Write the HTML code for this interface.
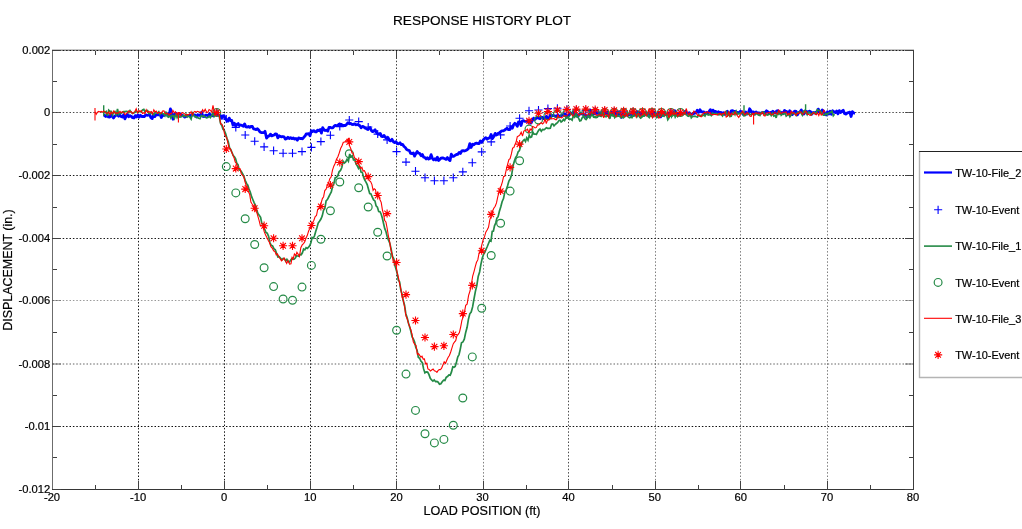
<!DOCTYPE html>
<html><head><meta charset="utf-8"><title>RESPONSE HISTORY PLOT</title>
<style>
html,body{margin:0;padding:0;background:#fff;overflow:hidden}
body{width:1022px;height:529px;font-family:"Liberation Sans",Arial,sans-serif}
svg{display:block}
</style></head><body>
<svg width="1022" height="529" viewBox="0 0 1022 529">
<rect width="100%" height="100%" fill="#fff"/>
<g fill="none" stroke-width="1" shape-rendering="crispEdges">
<line x1="52" y1="49.5" x2="914" y2="49.5" stroke="#c8c8c8"/>
<line x1="52" y1="50.5" x2="914" y2="50.5" stroke="#9a9a9a"/>
<line x1="52.5" y1="50" x2="52.5" y2="490" stroke="#6c6c6c"/>
<line x1="913.5" y1="50" x2="913.5" y2="490" stroke="#3c3c3c"/>
<line x1="52" y1="489.5" x2="914" y2="489.5" stroke="#363636"/>
</g>
<g fill="none" stroke="#000" stroke-width="1" stroke-dasharray="1.5 1.9">
<line x1="138.5" y1="50.5" x2="138.5" y2="489.5" stroke-opacity="0.90"/>
<line x1="224.5" y1="50.5" x2="224.5" y2="489.5" stroke-opacity="0.90"/>
<line x1="310.5" y1="50.5" x2="310.5" y2="489.5" stroke-opacity="0.90"/>
<line x1="396.5" y1="50.5" x2="396.5" y2="489.5" stroke-opacity="0.75"/>
<line x1="483.5" y1="50.5" x2="483.5" y2="489.5" stroke-opacity="0.50"/>
<line x1="568.5" y1="50.5" x2="568.5" y2="489.5" stroke-opacity="0.70"/>
<line x1="655.5" y1="50.5" x2="655.5" y2="489.5" stroke-opacity="0.50"/>
<line x1="740.5" y1="50.5" x2="740.5" y2="489.5" stroke-opacity="0.50"/>
<line x1="827.5" y1="50.5" x2="827.5" y2="489.5" stroke-opacity="0.50"/>
<line x1="52.5" y1="112.5" x2="913.5" y2="112.5" stroke-opacity="0.70"/>
<line x1="52.5" y1="175.5" x2="913.5" y2="175.5" stroke-opacity="0.90"/>
<line x1="52.5" y1="238.5" x2="913.5" y2="238.5" stroke-opacity="0.90"/>
<line x1="52.5" y1="300.5" x2="913.5" y2="300.5" stroke-opacity="0.40"/>
<line x1="52.5" y1="364.0" x2="913.5" y2="364.0" stroke-opacity="0.62"/>
<line x1="52.5" y1="426.5" x2="913.5" y2="426.5" stroke-opacity="0.95"/>
<line x1="52.5" y1="50.5" x2="913.5" y2="50.5" stroke-opacity="0.85"/>
</g>
<g fill="none" stroke="#404040" stroke-width="1" shape-rendering="crispEdges">
<line x1="95.5" y1="489.5" x2="95.5" y2="485.2"/>
<line x1="95.5" y1="50.5" x2="95.5" y2="54.8"/>
<line x1="138.5" y1="489.5" x2="138.5" y2="481.0"/>
<line x1="138.5" y1="50.5" x2="138.5" y2="59.0"/>
<line x1="181.5" y1="489.5" x2="181.5" y2="485.2"/>
<line x1="181.5" y1="50.5" x2="181.5" y2="54.8"/>
<line x1="224.5" y1="489.5" x2="224.5" y2="481.0"/>
<line x1="224.5" y1="50.5" x2="224.5" y2="59.0"/>
<line x1="267.5" y1="489.5" x2="267.5" y2="485.2"/>
<line x1="267.5" y1="50.5" x2="267.5" y2="54.8"/>
<line x1="310.5" y1="489.5" x2="310.5" y2="481.0"/>
<line x1="310.5" y1="50.5" x2="310.5" y2="59.0"/>
<line x1="353.5" y1="489.5" x2="353.5" y2="485.2"/>
<line x1="353.5" y1="50.5" x2="353.5" y2="54.8"/>
<line x1="396.5" y1="489.5" x2="396.5" y2="481.0"/>
<line x1="396.5" y1="50.5" x2="396.5" y2="59.0"/>
<line x1="439.5" y1="489.5" x2="439.5" y2="485.2"/>
<line x1="439.5" y1="50.5" x2="439.5" y2="54.8"/>
<line x1="483.5" y1="489.5" x2="483.5" y2="481.0"/>
<line x1="483.5" y1="50.5" x2="483.5" y2="59.0"/>
<line x1="526.5" y1="489.5" x2="526.5" y2="485.2"/>
<line x1="526.5" y1="50.5" x2="526.5" y2="54.8"/>
<line x1="568.5" y1="489.5" x2="568.5" y2="481.0"/>
<line x1="568.5" y1="50.5" x2="568.5" y2="59.0"/>
<line x1="612.5" y1="489.5" x2="612.5" y2="485.2"/>
<line x1="612.5" y1="50.5" x2="612.5" y2="54.8"/>
<line x1="655.5" y1="489.5" x2="655.5" y2="481.0"/>
<line x1="655.5" y1="50.5" x2="655.5" y2="59.0"/>
<line x1="698.5" y1="489.5" x2="698.5" y2="485.2"/>
<line x1="698.5" y1="50.5" x2="698.5" y2="54.8"/>
<line x1="740.5" y1="489.5" x2="740.5" y2="481.0"/>
<line x1="740.5" y1="50.5" x2="740.5" y2="59.0"/>
<line x1="784.5" y1="489.5" x2="784.5" y2="485.2"/>
<line x1="784.5" y1="50.5" x2="784.5" y2="54.8"/>
<line x1="827.5" y1="489.5" x2="827.5" y2="481.0"/>
<line x1="827.5" y1="50.5" x2="827.5" y2="59.0"/>
<line x1="870.5" y1="489.5" x2="870.5" y2="485.2"/>
<line x1="870.5" y1="50.5" x2="870.5" y2="54.8"/>
<line x1="52.5" y1="50.50" x2="61.0" y2="50.50" stroke-opacity="1.00"/>
<line x1="913.5" y1="50.50" x2="905.0" y2="50.50" stroke-opacity="1.00"/>
<line x1="52.5" y1="81.50" x2="56.8" y2="81.50" stroke-opacity="1.00"/>
<line x1="913.5" y1="81.50" x2="909.2" y2="81.50" stroke-opacity="1.00"/>
<line x1="52.5" y1="112.50" x2="61.0" y2="112.50" stroke-opacity="0.80"/>
<line x1="913.5" y1="112.50" x2="905.0" y2="112.50" stroke-opacity="0.80"/>
<line x1="52.5" y1="144.50" x2="56.8" y2="144.50" stroke-opacity="1.00"/>
<line x1="913.5" y1="144.50" x2="909.2" y2="144.50" stroke-opacity="1.00"/>
<line x1="52.5" y1="175.50" x2="61.0" y2="175.50" stroke-opacity="1.00"/>
<line x1="913.5" y1="175.50" x2="905.0" y2="175.50" stroke-opacity="1.00"/>
<line x1="52.5" y1="207.50" x2="56.8" y2="207.50" stroke-opacity="1.00"/>
<line x1="913.5" y1="207.50" x2="909.2" y2="207.50" stroke-opacity="1.00"/>
<line x1="52.5" y1="238.50" x2="61.0" y2="238.50" stroke-opacity="1.00"/>
<line x1="913.5" y1="238.50" x2="905.0" y2="238.50" stroke-opacity="1.00"/>
<line x1="52.5" y1="269.50" x2="56.8" y2="269.50" stroke-opacity="1.00"/>
<line x1="913.5" y1="269.50" x2="909.2" y2="269.50" stroke-opacity="1.00"/>
<line x1="52.5" y1="300.50" x2="61.0" y2="300.50" stroke-opacity="0.45"/>
<line x1="913.5" y1="300.50" x2="905.0" y2="300.50" stroke-opacity="0.45"/>
<line x1="52.5" y1="332.50" x2="56.8" y2="332.50" stroke-opacity="1.00"/>
<line x1="913.5" y1="332.50" x2="909.2" y2="332.50" stroke-opacity="1.00"/>
<line x1="52.5" y1="364.00" x2="61.0" y2="364.00" stroke-opacity="0.70" shape-rendering="auto"/>
<line x1="913.5" y1="364.00" x2="905.0" y2="364.00" stroke-opacity="0.70" shape-rendering="auto"/>
<line x1="52.5" y1="395.50" x2="56.8" y2="395.50" stroke-opacity="1.00"/>
<line x1="913.5" y1="395.50" x2="909.2" y2="395.50" stroke-opacity="1.00"/>
<line x1="52.5" y1="426.50" x2="61.0" y2="426.50" stroke-opacity="1.00"/>
<line x1="913.5" y1="426.50" x2="905.0" y2="426.50" stroke-opacity="1.00"/>
<line x1="52.5" y1="457.50" x2="56.8" y2="457.50" stroke-opacity="1.00"/>
<line x1="913.5" y1="457.50" x2="909.2" y2="457.50" stroke-opacity="1.00"/>
<line x1="52.5" y1="489.50" x2="61.0" y2="489.50" stroke-opacity="1.00"/>
<line x1="913.5" y1="489.50" x2="905.0" y2="489.50" stroke-opacity="1.00"/>
</g>
<g font-family="'Liberation Sans', Arial, sans-serif" font-size="11.2" fill="#000" stroke="#000" stroke-width="0.2">
<text x="52.0" y="501" text-anchor="middle">-20</text>
<text x="138.1" y="501" text-anchor="middle">-10</text>
<text x="224.2" y="501" text-anchor="middle">0</text>
<text x="310.3" y="501" text-anchor="middle">10</text>
<text x="396.4" y="501" text-anchor="middle">20</text>
<text x="482.5" y="501" text-anchor="middle">30</text>
<text x="568.6" y="501" text-anchor="middle">40</text>
<text x="654.7" y="501" text-anchor="middle">50</text>
<text x="740.8" y="501" text-anchor="middle">60</text>
<text x="826.9" y="501" text-anchor="middle">70</text>
<text x="913.0" y="501" text-anchor="middle">80</text>
<text x="50.3" y="54.1" text-anchor="end">0.002</text>
<text x="50.3" y="116.1" text-anchor="end">0</text>
<text x="50.3" y="179.1" text-anchor="end">-0.002</text>
<text x="50.3" y="242.1" text-anchor="end">-0.004</text>
<text x="50.3" y="304.1" text-anchor="end">-0.006</text>
<text x="50.3" y="367.6" text-anchor="end">-0.008</text>
<text x="50.3" y="430.1" text-anchor="end">-0.01</text>
<text x="50.3" y="493.1" text-anchor="end">-0.012</text>
</g>
<g font-family="'Liberation Sans', Arial, sans-serif" fill="#000" stroke="#000" stroke-width="0.2">
<text x="482.1" y="25.4" font-size="13.58" text-anchor="middle">RESPONSE HISTORY PLOT</text>
<text x="482" y="515.2" font-size="12.6" text-anchor="middle">LOAD POSITION (ft)</text>
<text transform="translate(11.8,270) rotate(-90)" font-size="12.45" text-anchor="middle">DISPLACEMENT (in.)</text>
</g>
<g fill="none" stroke-linejoin="miter" stroke-miterlimit="3">
<path d="M103.3,115.7 L104.6,115.4 L105.8,116.6 L107.1,114.9 L108.4,116.9 L109.7,117.2 L110.9,114.7 L112.2,116.3 L113.5,118.0 L114.7,116.2 L116.0,115.4 L117.3,114.4 L118.6,116.2 L119.8,115.1 L121.1,116.5 L122.4,117.1 L123.6,114.8 L124.9,118.8 L126.2,116.2 L127.5,114.6 L128.7,116.8 L130.0,115.6 L131.3,116.4 L132.6,117.6 L133.9,118.0 L135.2,115.6 L136.5,116.9 L137.8,115.0 L139.1,117.1 L140.4,115.3 L141.7,116.6 L143.0,116.5 L144.3,116.6 L145.7,114.8 L147.0,115.3 L148.3,115.1 L149.6,114.7 L150.9,117.7 L152.2,118.6 L153.5,114.8 L154.8,116.6 L156.1,114.8 L157.4,114.8 L158.7,114.8 L160.0,114.0 L161.3,117.5 L162.6,115.2 L163.9,115.5 L165.2,114.9 L166.5,113.5 L167.8,114.0 L169.1,115.6 L170.4,108.9 L171.7,114.2 L173.0,119.2 L174.3,114.3 L175.7,113.1 L177.0,114.7 L178.3,114.3 L179.6,113.5 L180.9,114.9 L182.2,115.4 L183.5,116.0 L184.8,117.1 L186.1,116.4 L187.4,115.4 L188.7,115.7 L190.0,115.5 L191.3,115.7 L192.6,114.8 L193.9,114.8 L195.2,115.2 L196.5,117.0 L197.8,114.8 L199.1,115.3 L200.4,115.4 L201.6,112.3 L202.9,116.4 L204.2,116.5 L205.5,115.1 L206.8,115.1 L208.1,116.1 L209.4,113.9 L210.7,115.1 L212.0,115.2 L213.4,115.9 L214.8,114.2 L216.2,113.3 L217.6,114.4 L219.0,115.5 L220.3,115.3 L221.5,118.2 L222.8,115.9 L224.1,115.7 L225.3,118.5 L226.6,120.3 L227.9,121.2 L229.2,118.1 L230.5,120.7 L231.7,120.4 L233.0,125.1 L234.3,123.1 L235.6,126.0 L236.9,124.5 L238.2,123.6 L239.4,125.6 L240.7,125.0 L242.0,125.6 L243.3,126.2 L244.6,123.9 L245.9,126.9 L247.2,127.1 L248.4,126.4 L249.7,127.4 L251.0,126.3 L252.3,126.5 L253.6,128.9 L254.9,129.2 L256.1,129.6 L257.4,128.8 L258.7,130.1 L260.0,132.0 L261.2,132.6 L262.5,132.7 L263.8,132.7 L265.0,131.3 L266.6,138.1 L268.0,136.3 L269.2,135.9 L270.5,134.2 L271.7,135.8 L272.9,135.4 L274.1,135.0 L275.4,133.9 L276.6,134.2 L277.8,137.9 L279.1,135.8 L280.3,136.4 L281.6,136.8 L282.8,136.5 L284.0,136.8 L285.3,139.1 L286.5,138.7 L287.9,137.3 L289.2,138.5 L290.6,137.7 L291.9,138.7 L293.2,138.0 L294.6,139.0 L295.9,138.5 L297.3,140.2 L298.6,137.9 L300.0,138.5 L301.2,138.4 L302.5,138.8 L303.8,137.3 L305.0,136.1 L306.2,133.9 L307.5,134.0 L308.8,133.6 L310.0,135.8 L311.3,130.8 L312.5,131.5 L313.8,130.6 L315.1,131.8 L316.3,131.9 L317.6,130.1 L318.9,130.7 L320.2,129.5 L321.4,133.1 L322.7,127.6 L324.0,129.8 L325.2,130.5 L326.5,130.1 L327.8,131.1 L329.0,127.4 L330.2,127.3 L331.5,127.9 L332.8,127.8 L334.0,126.4 L335.2,125.4 L336.5,125.6 L337.8,125.4 L339.1,124.1 L340.3,124.5 L341.6,124.5 L342.9,125.5 L344.2,125.4 L345.4,125.6 L346.7,124.2 L348.0,122.7 L349.3,123.8 L350.6,123.3 L351.9,124.3 L353.2,124.5 L354.6,123.9 L355.9,124.8 L357.2,124.5 L358.5,125.1 L359.8,125.6 L361.1,127.8 L362.4,126.5 L363.6,126.7 L364.9,127.9 L366.2,128.6 L367.4,129.3 L368.7,128.5 L370.0,127.5 L371.3,130.4 L372.6,131.6 L373.8,131.1 L375.1,129.8 L376.4,132.3 L377.7,133.7 L378.9,134.4 L380.2,133.4 L381.5,136.4 L382.8,136.6 L384.1,135.4 L385.3,137.4 L386.6,138.2 L387.9,137.4 L389.3,140.2 L390.6,140.9 L392.0,139.3 L393.3,141.7 L394.6,142.5 L396.0,141.7 L397.3,143.6 L398.7,143.8 L400.0,142.7 L401.3,144.6 L402.7,144.5 L404.0,146.5 L405.3,147.5 L406.6,149.5 L408.0,150.1 L409.3,150.5 L410.6,153.4 L412.0,153.5 L413.3,152.9 L414.6,156.1 L415.9,153.7 L417.2,151.5 L418.5,153.2 L419.7,153.3 L421.0,155.7 L422.3,154.4 L423.6,157.2 L424.9,157.5 L426.1,158.9 L427.4,157.7 L428.6,159.1 L429.9,158.4 L431.1,154.7 L432.4,158.3 L433.6,159.8 L434.9,158.7 L436.1,160.0 L437.4,157.2 L438.6,160.5 L439.9,159.2 L441.1,158.1 L442.4,157.8 L443.6,158.2 L444.9,158.8 L446.1,159.4 L447.4,157.6 L448.7,159.4 L450.0,160.6 L451.3,154.2 L452.6,156.3 L453.9,156.3 L455.2,155.2 L456.5,154.5 L457.8,154.3 L459.2,152.4 L460.5,153.4 L461.8,150.8 L463.1,150.6 L464.5,151.0 L465.8,150.5 L467.1,149.8 L468.5,148.4 L469.8,143.7 L471.1,147.5 L472.5,144.2 L473.8,144.9 L475.1,143.5 L476.5,143.1 L477.8,143.5 L479.1,143.7 L480.4,140.9 L481.8,142.4 L483.1,140.2 L484.4,138.6 L485.8,137.6 L487.1,139.2 L488.5,138.1 L489.8,137.8 L491.1,134.5 L492.5,138.6 L493.8,136.6 L495.2,133.4 L496.5,135.0 L497.8,133.6 L499.2,132.9 L500.5,131.8 L501.8,130.9 L503.1,130.9 L504.5,130.3 L505.8,129.1 L507.1,128.3 L508.5,129.7 L509.8,129.6 L511.1,126.7 L512.3,128.2 L513.5,124.8 L514.8,123.3 L516.0,124.2 L517.3,126.3 L518.5,121.8 L519.8,121.9 L521.0,125.5 L522.3,121.1 L523.5,120.6 L524.8,121.4 L526.0,121.4 L527.2,120.7 L528.5,122.4 L529.7,120.3 L531.0,123.1 L532.3,120.5 L533.6,118.1 L534.9,119.5 L536.1,118.3 L537.4,117.7 L538.7,118.3 L540.0,118.8 L541.3,117.4 L542.6,117.4 L543.9,118.6 L545.2,117.9 L546.4,116.3 L547.7,118.5 L549.0,118.7 L550.3,115.1 L551.6,116.2 L552.9,115.3 L554.1,115.7 L555.4,116.1 L556.6,116.9 L557.9,114.7 L559.1,116.9 L560.4,116.4 L561.6,115.2 L562.9,115.0 L564.1,113.9 L565.4,114.0 L566.6,117.0 L567.9,116.5 L569.2,114.6 L570.6,113.7 L571.9,113.5 L573.2,112.0 L574.5,115.1 L575.8,113.8 L577.2,116.4 L578.5,115.6 L579.8,113.8 L581.1,113.7 L582.4,114.0 L583.8,114.7 L585.1,114.9 L586.4,116.6 L587.7,116.3 L589.0,115.8 L590.4,110.0 L591.7,114.8 L593.0,113.9 L594.3,113.6 L595.6,112.3 L596.9,113.6 L598.2,113.0 L599.5,112.8 L600.8,115.0 L602.1,111.8 L603.4,113.9 L604.8,113.8 L606.1,112.3 L607.4,115.3 L608.7,113.8 L610.0,116.0 L611.3,113.3 L612.6,113.3 L613.9,114.5 L615.2,112.9 L616.5,113.6 L617.8,114.8 L619.1,111.8 L620.4,114.6 L621.7,117.3 L623.0,114.0 L624.3,115.1 L625.6,114.4 L626.9,115.2 L628.2,114.6 L629.6,114.4 L630.9,115.3 L632.2,115.7 L633.5,115.0 L634.8,113.9 L636.1,113.7 L637.4,111.6 L638.7,113.2 L640.0,113.2 L641.3,115.2 L642.6,113.8 L643.9,115.3 L645.2,114.6 L646.5,112.9 L647.7,114.7 L649.0,114.1 L650.3,115.0 L651.6,112.8 L652.9,116.3 L654.2,112.0 L655.5,114.2 L656.8,115.6 L658.1,112.8 L659.4,114.5 L660.6,116.9 L661.9,115.0 L663.2,115.4 L664.5,112.1 L665.8,114.7 L667.1,114.2 L668.4,114.6 L669.7,114.3 L671.0,112.2 L672.3,113.3 L673.5,113.2 L674.8,110.7 L676.1,115.0 L677.4,113.7 L678.7,113.7 L680.0,113.7 L681.3,113.0 L682.7,113.4 L684.0,113.1 L685.3,111.2 L686.7,113.0 L688.0,113.5 L689.3,112.7 L690.7,114.3 L692.0,114.3 L693.3,114.0 L694.7,112.3 L696.0,113.0 L697.3,110.2 L698.7,112.4 L700.0,109.8 L701.3,111.9 L702.6,111.9 L703.9,112.0 L705.2,113.9 L706.5,112.4 L707.8,113.8 L709.1,111.6 L710.4,109.6 L711.7,114.2 L713.0,110.2 L714.3,111.9 L715.7,111.3 L717.0,112.8 L718.3,111.8 L719.6,112.6 L720.9,112.4 L722.2,113.5 L723.5,112.6 L724.8,114.3 L726.1,112.7 L727.4,111.2 L728.7,114.3 L730.0,113.9 L731.3,110.9 L732.6,110.6 L733.9,111.6 L735.2,111.4 L736.5,112.6 L737.8,112.4 L739.1,113.0 L740.4,111.2 L741.7,112.0 L743.0,114.3 L744.3,114.1 L745.7,111.9 L747.0,114.1 L748.3,113.3 L749.6,108.8 L750.9,110.7 L752.2,112.8 L753.5,111.9 L754.8,114.0 L756.1,112.0 L757.4,113.1 L758.7,112.8 L760.0,113.5 L761.3,112.9 L762.6,112.6 L763.9,112.5 L765.2,112.6 L766.5,110.8 L767.7,111.7 L769.0,113.0 L770.3,112.5 L771.6,112.6 L772.9,111.3 L774.2,112.5 L775.5,112.8 L776.8,110.8 L778.1,110.7 L779.4,112.8 L780.6,113.6 L781.9,112.4 L783.2,113.7 L784.5,110.5 L785.8,111.4 L787.1,111.9 L788.4,114.0 L789.7,110.8 L791.0,112.9 L792.3,114.6 L793.5,112.2 L794.8,111.1 L796.1,111.4 L797.4,114.9 L798.7,112.6 L800.0,112.0 L801.3,109.9 L802.6,113.6 L803.9,114.1 L805.2,112.0 L806.5,111.4 L807.9,112.5 L809.2,111.2 L810.5,111.5 L811.8,114.2 L813.1,112.5 L814.4,112.9 L815.7,112.2 L817.0,112.7 L818.3,109.1 L819.6,112.3 L821.0,112.6 L822.3,110.0 L823.6,111.0 L824.9,113.8 L826.2,114.9 L827.5,111.8 L828.8,114.0 L830.1,111.3 L831.4,114.3 L832.7,110.8 L834.0,111.7 L835.4,112.6 L836.7,111.0 L838.0,113.8 L839.3,110.6 L840.6,112.5 L841.9,111.4 L843.2,110.2 L844.5,113.4 L845.8,114.1 L847.1,113.1 L848.5,112.5 L849.8,112.1 L851.1,116.5 L852.4,111.6 L853.7,113.0 L855.0,113.3" stroke="#0000ff" stroke-width="2.8" stroke-linejoin="round"/>
<path d="M212.8,112.5h8.1M216.8,108.5v8.1" stroke="#0000ff" stroke-width="1.1" fill="none"/>
<path d="M222.2,119.0h8.1M226.3,115.0v8.1" stroke="#0000ff" stroke-width="1.1" fill="none"/>
<path d="M231.7,127.4h8.1M235.8,123.4v8.1" stroke="#0000ff" stroke-width="1.1" fill="none"/>
<path d="M241.2,135.0h8.1M245.2,130.9v8.1" stroke="#0000ff" stroke-width="1.1" fill="none"/>
<path d="M250.6,141.3h8.1M254.7,137.2v8.1" stroke="#0000ff" stroke-width="1.1" fill="none"/>
<path d="M260.1,146.9h8.1M264.1,142.8v8.1" stroke="#0000ff" stroke-width="1.1" fill="none"/>
<path d="M269.6,150.7h8.1M273.6,146.6v8.1" stroke="#0000ff" stroke-width="1.1" fill="none"/>
<path d="M279.0,153.2h8.1M283.1,149.1v8.1" stroke="#0000ff" stroke-width="1.1" fill="none"/>
<path d="M288.5,153.2h8.1M292.5,149.1v8.1" stroke="#0000ff" stroke-width="1.1" fill="none"/>
<path d="M297.9,151.6h8.1M302.0,147.5v8.1" stroke="#0000ff" stroke-width="1.1" fill="none"/>
<path d="M307.4,147.4h8.1M311.4,143.3v8.1" stroke="#0000ff" stroke-width="1.1" fill="none"/>
<path d="M316.8,141.6h8.1M320.9,137.5v8.1" stroke="#0000ff" stroke-width="1.1" fill="none"/>
<path d="M326.3,135.3h8.1M330.4,131.2v8.1" stroke="#0000ff" stroke-width="1.1" fill="none"/>
<path d="M335.8,126.6h8.1M339.8,122.5v8.1" stroke="#0000ff" stroke-width="1.1" fill="none"/>
<path d="M345.2,120.0h8.1M349.3,116.0v8.1" stroke="#0000ff" stroke-width="1.1" fill="none"/>
<path d="M354.7,121.6h8.1M358.7,117.5v8.1" stroke="#0000ff" stroke-width="1.1" fill="none"/>
<path d="M364.2,127.0h8.1M368.2,123.0v8.1" stroke="#0000ff" stroke-width="1.1" fill="none"/>
<path d="M373.6,134.1h8.1M377.7,130.0v8.1" stroke="#0000ff" stroke-width="1.1" fill="none"/>
<path d="M383.1,139.9h8.1M387.1,135.8v8.1" stroke="#0000ff" stroke-width="1.1" fill="none"/>
<path d="M392.5,151.6h8.1M396.6,147.5v8.1" stroke="#0000ff" stroke-width="1.1" fill="none"/>
<path d="M402.0,162.1h8.1M406.0,158.0v8.1" stroke="#0000ff" stroke-width="1.1" fill="none"/>
<path d="M411.4,171.2h8.1M415.5,167.1v8.1" stroke="#0000ff" stroke-width="1.1" fill="none"/>
<path d="M420.9,177.7h8.1M425.0,173.6v8.1" stroke="#0000ff" stroke-width="1.1" fill="none"/>
<path d="M430.4,180.7h8.1M434.4,176.6v8.1" stroke="#0000ff" stroke-width="1.1" fill="none"/>
<path d="M439.8,180.7h8.1M443.9,176.6v8.1" stroke="#0000ff" stroke-width="1.1" fill="none"/>
<path d="M449.3,177.7h8.1M453.3,173.6v8.1" stroke="#0000ff" stroke-width="1.1" fill="none"/>
<path d="M458.8,171.9h8.1M462.8,167.8v8.1" stroke="#0000ff" stroke-width="1.1" fill="none"/>
<path d="M468.2,162.7h8.1M472.3,158.6v8.1" stroke="#0000ff" stroke-width="1.1" fill="none"/>
<path d="M477.7,151.9h8.1M481.7,147.8v8.1" stroke="#0000ff" stroke-width="1.1" fill="none"/>
<path d="M487.1,141.9h8.1M491.2,137.8v8.1" stroke="#0000ff" stroke-width="1.1" fill="none"/>
<path d="M496.6,134.9h8.1M500.6,130.8v8.1" stroke="#0000ff" stroke-width="1.1" fill="none"/>
<path d="M506.1,126.0h8.1M510.1,122.0v8.1" stroke="#0000ff" stroke-width="1.1" fill="none"/>
<path d="M515.5,118.3h8.1M519.6,114.2v8.1" stroke="#0000ff" stroke-width="1.1" fill="none"/>
<path d="M525.0,110.8h8.1M529.0,106.8v8.1" stroke="#0000ff" stroke-width="1.1" fill="none"/>
<path d="M534.4,110.0h8.1M538.5,106.0v8.1" stroke="#0000ff" stroke-width="1.1" fill="none"/>
<path d="M543.9,108.6h8.1M547.9,104.5v8.1" stroke="#0000ff" stroke-width="1.1" fill="none"/>
<path d="M553.4,108.3h8.1M557.4,104.2v8.1" stroke="#0000ff" stroke-width="1.1" fill="none"/>
<path d="M562.8,109.3h8.1M566.9,105.2v8.1" stroke="#0000ff" stroke-width="1.1" fill="none"/>
<path d="M572.3,110.0h8.1M576.3,106.0v8.1" stroke="#0000ff" stroke-width="1.1" fill="none"/>
<path d="M581.7,110.6h8.1M585.8,106.6v8.1" stroke="#0000ff" stroke-width="1.1" fill="none"/>
<path d="M591.2,111.0h8.1M595.2,107.0v8.1" stroke="#0000ff" stroke-width="1.1" fill="none"/>
<path d="M600.7,111.4h8.1M604.7,107.3v8.1" stroke="#0000ff" stroke-width="1.1" fill="none"/>
<path d="M610.1,111.6h8.1M614.2,107.5v8.1" stroke="#0000ff" stroke-width="1.1" fill="none"/>
<path d="M619.6,111.8h8.1M623.6,107.7v8.1" stroke="#0000ff" stroke-width="1.1" fill="none"/>
<path d="M629.0,111.9h8.1M633.1,107.8v8.1" stroke="#0000ff" stroke-width="1.1" fill="none"/>
<path d="M638.5,112.0h8.1M642.5,107.9v8.1" stroke="#0000ff" stroke-width="1.1" fill="none"/>
<path d="M648.0,112.1h8.1M652.0,108.0v8.1" stroke="#0000ff" stroke-width="1.1" fill="none"/>
<path d="M657.4,112.1h8.1M661.5,108.1v8.1" stroke="#0000ff" stroke-width="1.1" fill="none"/>
<path d="M666.9,112.2h8.1M670.9,108.1v8.1" stroke="#0000ff" stroke-width="1.1" fill="none"/>
<path d="M676.3,112.2h8.1M680.4,108.2v8.1" stroke="#0000ff" stroke-width="1.1" fill="none"/>
<path d="M103.7,112.2 L105.0,112.7 L106.2,111.5 L107.5,115.9 L108.7,110.2 L110.0,111.4 L111.2,111.3 L112.5,115.0 L113.7,111.9 L115.0,111.5 L116.2,115.6 L117.5,109.0 L118.7,114.4 L120.0,112.7 L121.2,113.3 L122.5,112.1 L123.7,111.7 L125.0,111.5 L126.2,111.4 L127.5,111.5 L128.8,112.6 L130.0,110.6 L131.2,112.2 L132.5,113.4 L133.8,112.9 L135.0,112.4 L136.2,111.1 L137.5,112.4 L138.8,111.4 L140.0,111.7 L141.2,111.9 L142.5,109.9 L143.8,109.4 L145.0,111.7 L146.2,110.9 L147.5,110.5 L148.8,113.5 L150.0,113.4 L151.2,112.2 L152.5,114.0 L153.8,114.8 L155.0,112.8 L156.2,113.0 L157.5,113.2 L158.8,111.8 L160.0,114.5 L161.2,113.0 L162.4,113.5 L163.6,113.9 L164.8,115.7 L166.0,111.6 L167.2,116.5 L168.4,117.1 L169.6,115.5 L170.8,118.0 L172.0,115.5 L173.3,115.8 L174.5,118.3 L175.8,113.7 L177.1,117.5 L178.4,114.9 L179.6,117.1 L180.9,116.9 L182.2,116.3 L183.5,115.3 L184.7,116.4 L186.0,114.3 L187.3,116.9 L188.5,116.0 L189.8,117.0 L191.1,119.0 L192.4,113.2 L193.6,115.1 L194.9,116.8 L196.2,116.7 L197.5,117.6 L198.7,118.3 L200.0,118.7 L201.3,115.5 L202.6,116.4 L203.9,115.9 L205.2,117.1 L206.5,117.9 L207.8,117.5 L209.1,116.2 L210.4,117.7 L211.7,115.7 L213.0,112.8 L214.2,116.5 L215.5,114.8 L216.8,113.2 L218.0,110.5 L219.3,116.6 L220.5,123.1 L221.8,125.6 L223.0,129.3 L224.3,130.4 L225.6,133.5 L226.9,138.2 L228.2,141.6 L229.5,147.7 L230.8,149.6 L232.0,152.5 L233.2,155.5 L234.4,156.7 L235.6,158.8 L236.8,163.3 L238.0,164.7 L239.2,170.0 L240.4,170.2 L241.6,172.0 L242.8,174.1 L244.0,176.9 L245.3,180.5 L246.5,183.4 L247.8,185.2 L249.0,189.0 L250.3,192.2 L251.6,196.7 L252.8,199.5 L254.1,202.6 L255.3,205.0 L256.6,209.5 L257.9,213.6 L259.2,215.3 L260.6,217.4 L261.9,223.8 L263.2,223.9 L264.5,228.7 L265.9,232.4 L267.2,233.2 L268.6,236.3 L269.9,242.5 L271.2,245.4 L272.6,245.9 L273.9,248.7 L275.3,249.7 L276.6,253.5 L277.9,256.9 L279.2,256.6 L280.6,258.2 L281.9,259.8 L283.2,258.5 L284.4,258.7 L285.7,261.2 L286.9,259.4 L288.2,261.5 L289.4,261.9 L290.6,260.3 L291.8,258.6 L292.9,259.4 L294.1,259.3 L295.3,258.1 L296.5,255.8 L297.7,256.0 L298.9,256.3 L300.1,254.5 L301.2,254.8 L302.4,252.8 L303.6,249.1 L304.8,249.9 L306.1,247.6 L307.3,248.4 L308.6,247.2 L309.8,245.5 L310.9,242.8 L312.1,237.5 L313.2,238.1 L314.4,236.1 L315.7,231.4 L316.9,227.8 L318.2,223.1 L319.5,221.3 L320.8,219.3 L322.2,216.1 L323.5,210.3 L324.8,208.6 L326.1,200.9 L327.4,199.6 L328.7,197.0 L330.0,194.4 L331.3,191.9 L332.6,186.2 L333.9,183.5 L335.2,177.7 L336.5,177.2 L337.8,175.8 L339.1,171.8 L340.5,170.4 L341.8,167.5 L343.1,161.3 L344.4,163.1 L345.7,162.0 L347.1,159.2 L348.4,161.2 L349.7,154.0 L351.0,156.8 L352.3,156.1 L353.5,159.8 L354.8,159.3 L356.0,164.0 L357.3,165.8 L358.5,168.3 L359.8,165.8 L361.0,172.1 L362.3,172.4 L363.5,176.9 L364.8,180.2 L366.0,182.1 L367.2,184.6 L368.5,189.3 L369.7,193.6 L371.0,193.9 L372.3,197.2 L373.6,199.9 L374.9,200.9 L376.1,205.9 L377.4,207.2 L378.7,211.5 L380.0,211.7 L381.2,214.2 L382.4,218.3 L383.6,223.8 L384.7,228.4 L385.9,231.4 L387.1,236.2 L388.3,239.6 L389.7,242.9 L391.1,249.0 L392.5,256.5 L393.7,258.6 L394.8,265.1 L396.0,268.9 L397.1,272.8 L398.3,280.2 L399.6,281.8 L400.8,290.1 L402.1,294.2 L403.3,300.8 L404.6,305.4 L405.8,313.7 L407.1,317.6 L408.3,322.4 L409.6,326.7 L410.8,331.0 L412.1,336.9 L413.3,338.9 L414.6,341.9 L415.8,347.5 L417.1,350.2 L418.3,357.3 L419.6,358.2 L420.9,361.1 L422.3,362.7 L423.6,368.9 L424.9,372.9 L426.2,371.8 L427.6,372.1 L428.9,374.4 L430.3,378.4 L431.6,380.0 L432.9,381.1 L434.2,379.9 L435.6,381.7 L436.9,381.5 L438.2,382.2 L439.5,384.2 L440.9,383.7 L442.2,381.7 L443.6,380.1 L444.9,380.4 L446.2,377.4 L447.5,376.5 L448.9,374.9 L450.2,375.3 L451.5,371.9 L452.8,366.8 L454.0,367.2 L455.2,366.5 L456.5,362.0 L457.8,356.9 L459.0,354.8 L460.2,349.6 L461.5,342.8 L462.9,342.0 L464.3,339.1 L465.7,332.4 L467.1,327.3 L468.4,319.3 L469.8,313.8 L471.2,312.0 L472.6,306.9 L474.0,298.9 L475.4,291.4 L476.8,285.6 L478.2,276.4 L479.6,272.0 L480.9,264.3 L482.3,258.1 L483.6,254.3 L484.8,252.3 L486.1,249.1 L487.3,246.5 L488.6,243.2 L489.8,240.3 L491.0,241.1 L492.2,231.5 L493.4,231.1 L494.5,225.8 L495.7,223.0 L496.9,218.1 L498.1,216.7 L499.4,211.2 L500.8,206.7 L502.1,201.7 L503.5,198.6 L504.8,192.2 L506.2,190.0 L507.5,186.0 L508.9,181.0 L510.3,178.6 L511.7,174.6 L513.1,165.7 L514.4,161.0 L515.6,157.7 L516.9,155.7 L518.1,151.9 L519.4,150.6 L520.6,146.4 L521.9,143.0 L523.1,140.7 L524.3,139.5 L525.5,141.5 L526.7,137.8 L528.0,140.1 L529.2,135.2 L530.4,137.5 L531.6,137.0 L532.8,132.0 L534.0,134.1 L535.2,134.0 L536.4,134.4 L537.6,132.2 L538.8,130.1 L540.0,129.0 L541.3,131.2 L542.6,129.4 L543.9,129.8 L545.2,128.9 L546.4,127.7 L547.7,128.3 L549.0,128.4 L550.3,128.3 L551.6,124.3 L552.8,124.0 L554.0,125.8 L555.2,124.5 L556.3,123.5 L557.5,122.6 L558.7,120.8 L559.9,120.1 L561.1,122.0 L562.3,121.1 L563.5,119.4 L564.6,120.6 L565.8,118.1 L567.0,118.1 L568.2,117.1 L569.5,119.4 L570.8,119.0 L572.1,120.2 L573.3,115.8 L574.6,117.2 L575.9,113.6 L577.2,116.7 L578.5,118.0 L579.8,120.9 L581.0,120.6 L582.3,117.5 L583.6,116.4 L584.9,118.6 L586.1,119.6 L587.4,117.8 L588.6,116.2 L589.9,117.9 L591.1,115.7 L592.4,114.4 L593.6,117.2 L594.9,117.4 L596.1,117.6 L597.3,117.3 L598.6,115.7 L599.8,115.9 L601.1,116.4 L602.3,110.8 L603.6,113.6 L604.8,116.4 L606.1,116.8 L607.3,115.9 L608.6,115.9 L609.8,118.8 L611.0,114.3 L612.3,115.2 L613.5,113.9 L614.7,117.6 L616.0,116.2 L617.2,116.3 L618.4,116.0 L619.7,116.4 L620.9,117.7 L622.1,116.2 L623.4,117.7 L624.6,116.7 L625.8,112.2 L627.1,115.8 L628.3,116.9 L629.5,117.8 L630.8,117.2 L632.0,117.7 L633.2,115.1 L634.5,113.4 L635.7,114.0 L636.9,116.9 L638.2,114.5 L639.4,116.8 L640.6,118.2 L641.9,117.2 L643.1,113.3 L644.3,115.5 L645.6,113.8 L646.8,115.5 L648.0,116.3 L649.3,117.5 L650.5,115.2 L651.7,115.6 L653.0,116.4 L654.2,115.1 L655.4,114.4 L656.7,117.6 L657.9,117.1 L659.1,114.2 L660.4,114.1 L661.6,113.7 L662.8,114.7 L664.1,116.2 L665.3,114.6 L666.5,114.6 L667.8,119.7 L669.0,117.9 L670.2,113.6 L671.5,116.8 L672.7,113.8 L673.9,112.6 L675.2,117.1 L676.4,114.8 L677.6,116.6 L678.9,115.0 L680.1,115.4 L681.4,114.6 L682.6,114.5 L683.9,113.6 L685.1,113.8 L686.3,114.4 L687.6,116.0 L688.8,116.2 L690.1,114.1 L691.3,117.8 L692.5,116.4 L693.8,116.5 L695.0,116.1 L696.3,116.7 L697.5,117.1 L698.8,114.9 L700.0,115.9 L701.2,115.3 L702.5,115.8 L703.8,114.8 L705.0,116.1 L706.2,113.6 L707.5,114.5 L708.8,115.0 L710.0,114.4 L711.2,115.5 L712.5,113.0 L713.8,113.9 L715.0,114.1 L716.2,113.5 L717.5,114.0 L718.8,114.8 L720.0,114.4 L721.2,114.1 L722.5,116.0 L723.8,114.1 L725.0,113.2 L726.2,111.7 L727.5,116.3 L728.8,113.1 L730.0,116.5 L731.2,116.3 L732.5,113.4 L733.8,112.1 L735.0,114.6 L736.2,111.2 L737.5,114.0 L738.8,113.7 L740.0,113.0 L741.2,113.4 L742.5,113.0 L743.8,115.9 L745.0,115.7 L746.2,114.6 L747.5,114.0 L748.8,113.3 L750.0,114.8 L751.2,114.4 L752.5,114.0 L753.8,114.7 L755.0,114.6 L756.2,113.0 L757.5,114.3 L758.8,115.1 L760.0,115.5 L761.2,112.6 L762.5,112.1 L763.8,112.1 L765.0,114.5 L766.2,114.6 L767.5,115.1 L768.8,114.6 L770.0,113.5 L771.2,115.5 L772.5,113.1 L773.8,116.0 L775.0,115.2 L776.2,117.8 L777.5,112.6 L778.8,114.2 L780.0,111.8 L781.2,115.3 L782.5,114.2 L783.7,113.9 L785.0,113.2 L786.2,116.1 L787.4,115.2 L788.7,113.9 L789.9,116.7 L791.1,115.1 L792.4,113.2 L793.6,113.1 L794.9,113.7 L796.1,115.4 L797.3,112.7 L798.6,112.2 L799.8,111.5 L801.1,112.8 L802.3,115.1 L803.5,111.0 L804.8,110.4 L806.0,112.5 L807.2,114.7 L808.5,112.2 L809.7,112.7 L811.0,114.7 L812.2,113.8 L813.4,112.5 L814.7,112.7 L815.9,113.7 L817.2,109.8 L818.4,110.5 L819.6,110.4 L820.9,111.6 L822.1,113.9 L823.4,115.1 L824.6,115.1 L825.8,113.5 L827.1,114.6 L828.3,113.2 L829.5,112.8 L830.8,112.2 L832.0,111.2 L833.3,115.7 L834.5,114.2" stroke="#248a46" stroke-width="1.7"/>
<path d="M103.7,105.3V116M744,105.3V114M805.6,104.3V113" stroke="#248a46" stroke-width="1.4"/>
<circle cx="216.8" cy="112.5" r="3.9" stroke="#248a46" stroke-width="1.2" fill="none"/>
<circle cx="226.3" cy="166.6" r="3.9" stroke="#248a46" stroke-width="1.2" fill="none"/>
<circle cx="235.8" cy="192.9" r="3.9" stroke="#248a46" stroke-width="1.2" fill="none"/>
<circle cx="245.2" cy="218.7" r="3.9" stroke="#248a46" stroke-width="1.2" fill="none"/>
<circle cx="254.7" cy="244.5" r="3.9" stroke="#248a46" stroke-width="1.2" fill="none"/>
<circle cx="264.1" cy="267.8" r="3.9" stroke="#248a46" stroke-width="1.2" fill="none"/>
<circle cx="273.6" cy="286.6" r="3.9" stroke="#248a46" stroke-width="1.2" fill="none"/>
<circle cx="283.1" cy="299.0" r="3.9" stroke="#248a46" stroke-width="1.2" fill="none"/>
<circle cx="292.5" cy="300.2" r="3.9" stroke="#248a46" stroke-width="1.2" fill="none"/>
<circle cx="302.0" cy="287.1" r="3.9" stroke="#248a46" stroke-width="1.2" fill="none"/>
<circle cx="311.4" cy="265.4" r="3.9" stroke="#248a46" stroke-width="1.2" fill="none"/>
<circle cx="320.9" cy="239.3" r="3.9" stroke="#248a46" stroke-width="1.2" fill="none"/>
<circle cx="330.4" cy="210.7" r="3.9" stroke="#248a46" stroke-width="1.2" fill="none"/>
<circle cx="339.8" cy="182.0" r="3.9" stroke="#248a46" stroke-width="1.2" fill="none"/>
<circle cx="349.3" cy="153.7" r="3.9" stroke="#248a46" stroke-width="1.2" fill="none"/>
<circle cx="358.7" cy="187.8" r="3.9" stroke="#248a46" stroke-width="1.2" fill="none"/>
<circle cx="368.2" cy="207.0" r="3.9" stroke="#248a46" stroke-width="1.2" fill="none"/>
<circle cx="377.7" cy="232.2" r="3.9" stroke="#248a46" stroke-width="1.2" fill="none"/>
<circle cx="387.1" cy="256.0" r="3.9" stroke="#248a46" stroke-width="1.2" fill="none"/>
<circle cx="396.6" cy="330.2" r="3.9" stroke="#248a46" stroke-width="1.2" fill="none"/>
<circle cx="406.0" cy="374.1" r="3.9" stroke="#248a46" stroke-width="1.2" fill="none"/>
<circle cx="415.5" cy="410.4" r="3.9" stroke="#248a46" stroke-width="1.2" fill="none"/>
<circle cx="425.0" cy="433.7" r="3.9" stroke="#248a46" stroke-width="1.2" fill="none"/>
<circle cx="434.4" cy="442.9" r="3.9" stroke="#248a46" stroke-width="1.2" fill="none"/>
<circle cx="443.9" cy="439.4" r="3.9" stroke="#248a46" stroke-width="1.2" fill="none"/>
<circle cx="453.3" cy="425.3" r="3.9" stroke="#248a46" stroke-width="1.2" fill="none"/>
<circle cx="462.8" cy="398.0" r="3.9" stroke="#248a46" stroke-width="1.2" fill="none"/>
<circle cx="472.3" cy="356.9" r="3.9" stroke="#248a46" stroke-width="1.2" fill="none"/>
<circle cx="481.7" cy="308.2" r="3.9" stroke="#248a46" stroke-width="1.2" fill="none"/>
<circle cx="491.2" cy="255.5" r="3.9" stroke="#248a46" stroke-width="1.2" fill="none"/>
<circle cx="500.6" cy="223.3" r="3.9" stroke="#248a46" stroke-width="1.2" fill="none"/>
<circle cx="510.1" cy="191.1" r="3.9" stroke="#248a46" stroke-width="1.2" fill="none"/>
<circle cx="519.6" cy="160.8" r="3.9" stroke="#248a46" stroke-width="1.2" fill="none"/>
<circle cx="529.0" cy="129.1" r="3.9" stroke="#248a46" stroke-width="1.2" fill="none"/>
<circle cx="538.5" cy="120.0" r="3.9" stroke="#248a46" stroke-width="1.2" fill="none"/>
<circle cx="547.9" cy="115.8" r="3.9" stroke="#248a46" stroke-width="1.2" fill="none"/>
<circle cx="557.4" cy="114.0" r="3.9" stroke="#248a46" stroke-width="1.2" fill="none"/>
<circle cx="566.9" cy="113.2" r="3.9" stroke="#248a46" stroke-width="1.2" fill="none"/>
<circle cx="576.3" cy="112.8" r="3.9" stroke="#248a46" stroke-width="1.2" fill="none"/>
<circle cx="585.8" cy="112.6" r="3.9" stroke="#248a46" stroke-width="1.2" fill="none"/>
<circle cx="595.2" cy="112.5" r="3.9" stroke="#248a46" stroke-width="1.2" fill="none"/>
<circle cx="604.7" cy="112.5" r="3.9" stroke="#248a46" stroke-width="1.2" fill="none"/>
<circle cx="614.2" cy="112.5" r="3.9" stroke="#248a46" stroke-width="1.2" fill="none"/>
<circle cx="623.6" cy="112.5" r="3.9" stroke="#248a46" stroke-width="1.2" fill="none"/>
<circle cx="633.1" cy="112.5" r="3.9" stroke="#248a46" stroke-width="1.2" fill="none"/>
<circle cx="642.5" cy="112.5" r="3.9" stroke="#248a46" stroke-width="1.2" fill="none"/>
<circle cx="652.0" cy="112.5" r="3.9" stroke="#248a46" stroke-width="1.2" fill="none"/>
<circle cx="661.5" cy="112.5" r="3.9" stroke="#248a46" stroke-width="1.2" fill="none"/>
<circle cx="670.9" cy="112.5" r="3.9" stroke="#248a46" stroke-width="1.2" fill="none"/>
<circle cx="680.4" cy="112.5" r="3.9" stroke="#248a46" stroke-width="1.2" fill="none"/>
<path d="M95.0,111.7 L96.2,114.4 L97.5,112.2 L98.8,111.4 L100.0,112.0 L101.2,111.4 L102.5,112.2 L103.8,110.9 L105.0,111.8 L106.2,112.9 L107.5,113.4 L108.8,111.8 L110.0,114.8 L111.2,112.1 L112.5,113.6 L113.8,111.0 L115.0,113.1 L116.2,112.9 L117.5,113.3 L118.8,112.6 L120.0,111.3 L121.2,112.8 L122.5,111.6 L123.8,112.6 L125.0,114.7 L126.2,113.7 L127.5,112.5 L128.8,110.9 L130.0,112.1 L131.2,111.6 L132.5,113.5 L133.8,112.7 L135.0,111.3 L136.2,108.7 L137.5,112.7 L138.8,110.5 L140.0,111.5 L141.2,110.8 L142.5,113.5 L143.8,112.7 L145.0,113.6 L146.2,109.8 L147.5,112.4 L148.8,111.3 L150.0,112.5 L151.2,111.5 L152.5,113.8 L153.8,109.9 L155.0,111.9 L156.2,111.1 L157.5,113.4 L158.8,112.2 L160.0,112.7 L161.3,113.3 L162.6,111.0 L163.9,110.9 L165.1,113.3 L166.4,113.9 L167.7,113.2 L169.0,115.1 L170.3,113.4 L171.6,113.7 L172.9,110.4 L174.1,112.7 L175.4,111.8 L176.7,114.8 L178.0,112.6 L179.3,112.5 L180.7,115.4 L182.0,112.6 L183.3,113.0 L184.7,113.9 L186.0,115.3 L187.3,114.6 L188.5,114.6 L189.8,113.7 L191.1,111.7 L192.4,114.9 L193.6,112.4 L194.9,111.4 L196.2,112.2 L197.5,111.3 L198.7,111.8 L200.0,112.1 L201.3,113.3 L202.6,109.7 L203.9,111.8 L205.2,109.2 L206.5,112.0 L207.8,112.4 L209.1,109.5 L210.4,110.3 L211.7,112.1 L213.0,105.4 L214.2,111.3 L215.5,114.6 L216.8,112.1 L218.0,113.7 L219.3,115.5 L220.6,123.8 L221.9,124.1 L223.2,127.2 L224.5,133.8 L225.7,136.3 L226.8,138.2 L228.0,143.4 L229.1,148.6 L230.3,148.7 L231.5,151.7 L232.8,154.9 L234.0,157.7 L235.2,161.9 L236.4,163.4 L237.7,168.7 L238.9,168.4 L240.1,168.7 L241.3,173.8 L242.6,175.4 L243.8,176.6 L245.0,181.8 L246.2,185.5 L247.4,188.4 L248.6,192.1 L249.7,194.4 L250.9,202.0 L252.1,204.0 L253.3,205.5 L254.5,208.6 L255.7,210.7 L256.9,212.8 L258.0,216.7 L259.2,220.8 L260.4,225.9 L261.6,225.6 L262.9,226.1 L264.2,231.7 L265.6,235.1 L266.9,237.6 L268.2,240.2 L269.5,242.5 L270.9,246.7 L272.2,248.0 L273.6,250.8 L274.9,251.4 L276.2,254.9 L277.5,253.8 L278.9,257.0 L280.2,258.6 L281.5,260.8 L282.8,259.5 L284.1,258.0 L285.4,260.8 L286.7,263.4 L288.0,260.6 L289.5,264.2 L291.0,263.8 L292.1,257.3 L293.2,258.8 L294.4,254.0 L295.7,255.6 L296.9,252.3 L298.2,254.4 L299.5,256.5 L300.8,247.7 L302.2,244.9 L303.5,243.6 L304.8,241.8 L306.1,237.9 L307.3,235.3 L308.6,231.0 L309.8,228.6 L311.1,227.8 L312.5,222.8 L313.8,220.4 L315.2,216.6 L316.5,215.5 L317.7,209.3 L318.9,208.5 L320.1,205.2 L321.2,202.7 L322.4,198.6 L323.6,196.7 L324.8,190.5 L326.1,189.2 L327.3,185.2 L328.6,182.8 L329.8,178.7 L331.1,177.0 L332.5,170.1 L333.8,166.2 L335.2,163.2 L336.5,159.3 L337.9,156.8 L339.2,153.1 L340.6,148.5 L342.0,145.7 L343.3,142.2 L344.6,142.0 L345.9,140.6 L347.2,141.0 L348.5,138.0 L349.6,145.9 L350.8,148.8 L352.0,153.0 L353.1,153.0 L354.4,157.4 L355.6,159.0 L356.9,159.5 L358.1,162.2 L359.4,165.8 L360.6,168.6 L361.9,167.3 L363.1,171.0 L364.4,170.7 L365.6,172.9 L366.9,176.4 L368.1,177.3 L369.4,180.6 L370.6,181.5 L371.9,184.4 L373.1,190.4 L374.2,188.7 L375.4,189.5 L376.6,195.7 L377.7,192.0 L378.9,196.4 L380.0,199.7 L381.2,202.4 L382.4,209.8 L383.6,214.4 L384.7,220.6 L385.9,222.0 L387.1,228.0 L388.3,235.3 L389.6,241.4 L390.8,249.3 L392.1,254.6 L393.3,262.1 L394.6,262.3 L395.8,263.5 L397.1,272.7 L398.3,277.0 L399.6,283.3 L400.8,288.8 L402.1,297.3 L403.3,300.5 L404.7,307.5 L406.0,316.0 L407.4,319.2 L408.6,323.9 L409.8,326.9 L410.9,329.9 L412.1,334.5 L413.3,341.7 L414.7,344.3 L416.0,345.4 L417.4,354.3 L418.6,353.7 L419.7,355.4 L420.9,357.1 L422.0,356.2 L423.2,359.1 L424.4,358.9 L425.6,363.9 L426.7,363.2 L427.9,368.9 L429.1,369.4 L430.4,371.0 L431.7,370.0 L433.1,369.1 L434.4,370.8 L435.7,371.2 L436.9,372.3 L438.0,370.6 L439.2,369.5 L440.3,369.6 L441.5,368.5 L442.8,365.3 L444.2,361.8 L445.5,363.4 L446.9,360.0 L448.2,357.3 L449.4,355.5 L450.7,352.0 L451.9,348.1 L453.2,343.9 L454.4,342.2 L455.7,340.7 L456.9,335.8 L458.2,334.4 L459.4,332.6 L460.7,326.8 L461.9,320.3 L463.2,316.9 L464.4,312.4 L465.7,305.4 L467.1,304.2 L468.6,295.3 L470.0,291.0 L471.3,284.6 L472.7,276.0 L474.0,271.6 L475.2,266.8 L476.5,262.3 L477.8,259.9 L479.0,253.5 L480.4,250.3 L481.7,245.4 L483.1,240.0 L484.4,237.1 L485.8,232.1 L487.1,230.0 L488.5,227.3 L489.8,219.9 L491.1,216.2 L492.5,211.3 L493.8,208.3 L495.2,206.2 L496.5,202.9 L497.7,197.2 L498.9,192.3 L500.1,187.6 L501.2,185.7 L502.4,181.8 L503.6,176.5 L504.8,176.3 L506.4,169.1 L507.6,164.4 L508.9,159.6 L510.1,158.6 L511.4,153.9 L512.6,148.1 L513.8,147.6 L514.9,144.7 L516.1,142.0 L517.3,136.6 L518.6,136.0 L519.9,134.8 L521.2,132.2 L522.5,136.1 L523.8,131.1 L525.1,130.5 L526.4,130.0 L527.6,129.2 L528.9,133.0 L530.1,129.0 L531.4,130.0 L532.6,126.4 L533.9,126.9 L535.1,127.9 L536.4,127.4 L537.6,124.8 L538.9,125.0 L540.1,123.5 L541.3,122.7 L542.5,124.0 L543.8,122.6 L545.0,118.9 L546.3,123.6 L547.6,119.8 L548.9,120.2 L550.2,117.5 L551.4,118.9 L552.7,118.7 L554.0,118.5 L555.3,119.6 L556.6,119.6 L557.9,114.8 L559.1,117.5 L560.4,117.5 L561.6,117.9 L562.9,116.9 L564.1,115.7 L565.4,115.7 L566.6,115.9 L567.8,114.3 L569.0,112.4 L570.3,112.7 L571.5,114.4 L572.7,115.8 L573.9,114.5 L575.1,110.9 L576.4,112.5 L577.6,112.7 L578.8,115.1 L580.0,114.7 L581.2,113.4 L582.5,113.8 L583.7,113.2 L584.9,114.8 L586.2,115.1 L587.4,114.4 L588.7,113.3 L589.9,114.8 L591.2,111.1 L592.4,113.4 L593.7,113.0 L594.9,113.7 L596.2,115.2 L597.4,115.3 L598.7,114.8 L599.9,114.4 L601.2,115.9 L602.4,114.1 L603.7,117.9 L604.9,114.1 L606.2,114.3 L607.4,114.8 L608.7,117.3 L609.9,111.7 L611.2,113.3 L612.5,112.6 L613.7,112.9 L615.0,115.0 L616.2,116.6 L617.5,112.6 L618.7,112.7 L620.0,112.6 L621.2,116.5 L622.5,114.2 L623.7,114.8 L625.0,116.4 L626.2,113.9 L627.5,116.0 L628.7,113.4 L630.0,113.2 L631.2,113.0 L632.5,114.2 L633.7,112.9 L635.0,113.7 L636.2,117.1 L637.5,114.2 L638.7,113.6 L640.0,116.5 L641.2,114.9 L642.5,114.4 L643.8,114.1 L645.0,112.6 L646.2,115.9 L647.5,113.8 L648.8,109.7 L650.0,112.0 L651.2,115.2 L652.5,117.8 L653.8,113.8 L655.0,116.7 L656.2,114.8 L657.5,113.1 L658.8,118.1 L660.0,117.3 L661.2,115.0 L662.5,113.5 L663.8,112.4 L665.0,115.3 L666.2,114.0 L667.5,112.4 L668.8,117.8 L670.0,115.0 L671.2,114.0 L672.5,113.6 L673.8,113.0 L675.0,114.4 L676.2,112.4 L677.5,116.4 L678.8,115.3 L680.0,113.9 L681.2,115.2 L682.5,114.7 L683.8,112.1 L685.0,114.2 L686.2,108.5 L687.5,112.6 L688.8,114.8 L690.0,112.8 L691.2,115.0 L692.5,114.3 L693.8,111.2 L695.0,112.1 L696.2,112.6 L697.5,115.3 L698.8,115.1 L700.0,116.2 L701.2,116.8 L702.5,114.2 L703.8,113.0 L705.0,112.2 L706.2,113.1 L707.5,111.5 L708.8,113.0 L710.0,112.4 L711.2,114.3 L712.5,115.0 L713.8,114.4 L715.0,114.5 L716.2,114.6 L717.5,115.2 L718.8,113.7 L720.0,113.1 L721.2,115.1 L722.5,113.4 L723.8,113.7 L725.0,111.7 L726.2,117.1 L727.5,116.2 L728.8,111.3 L730.0,115.8 L731.2,113.2 L732.5,114.5 L733.8,114.6 L735.0,111.9 L736.2,113.9 L737.5,115.9 L738.8,117.4 L740.0,115.0 L741.2,113.2 L742.5,111.1 L743.8,113.1 L745.0,114.9 L746.2,113.2 L747.5,112.7 L748.8,114.5 L750.0,116.2 L751.2,116.4 L752.5,113.2 L753.8,114.7 L755.0,113.0 L756.2,112.9 L757.5,113.6 L758.8,112.8 L760.0,114.1 L761.2,113.7 L762.5,112.3 L763.8,115.5 L765.0,116.0 L766.2,113.0 L767.5,112.9 L768.8,112.6 L770.0,112.3 L771.2,114.7 L772.5,114.6 L773.8,113.5 L775.0,112.2 L776.2,113.6 L777.5,114.1 L778.8,110.2 L780.0,112.6 L781.2,113.5 L782.5,112.3 L783.8,112.2 L785.0,112.3 L786.2,111.9 L787.5,115.0 L788.8,113.4 L790.0,114.7 L791.2,111.3 L792.5,113.3 L793.8,112.5 L795.0,114.2 L796.2,115.4 L797.5,113.2 L798.8,113.6 L800.0,111.6 L801.2,112.2 L802.5,114.2 L803.8,114.1 L805.0,111.1 L806.2,111.5 L807.5,114.2 L808.8,114.4 L810.0,115.4 L811.2,115.1 L812.5,113.1 L813.8,112.5 L815.0,114.1 L816.2,114.7 L817.5,112.8 L818.8,115.6 L820.0,112.0 L821.2,115.2 L822.5,114.1 L823.8,110.4 L825.0,112.4" stroke="#ff0000" stroke-width="1.1"/>
<path d="M95,108V120.5M753.6,113V124.5M178.4,112V122.4" stroke="#ff0000" stroke-width="1.1"/>
<path d="M212.8,112.5h8.1M216.8,108.5v8.1M214.0,109.6l5.7,5.7M214.0,115.4l5.7,-5.7" stroke="#ff0000" stroke-width="1.1" fill="none"/>
<path d="M222.2,149.0h8.1M226.3,144.9v8.1M223.4,146.1l5.7,5.7M223.4,151.9l5.7,-5.7" stroke="#ff0000" stroke-width="1.1" fill="none"/>
<path d="M231.7,168.6h8.1M235.8,164.5v8.1M232.9,165.7l5.7,5.7M232.9,171.5l5.7,-5.7" stroke="#ff0000" stroke-width="1.1" fill="none"/>
<path d="M241.2,189.1h8.1M245.2,185.0v8.1M242.4,186.2l5.7,5.7M242.4,192.0l5.7,-5.7" stroke="#ff0000" stroke-width="1.1" fill="none"/>
<path d="M250.6,208.2h8.1M254.7,204.1v8.1M251.8,205.3l5.7,5.7M251.8,211.1l5.7,-5.7" stroke="#ff0000" stroke-width="1.1" fill="none"/>
<path d="M260.1,225.7h8.1M264.1,221.6v8.1M261.3,222.8l5.7,5.7M261.3,228.6l5.7,-5.7" stroke="#ff0000" stroke-width="1.1" fill="none"/>
<path d="M269.6,238.3h8.1M273.6,234.2v8.1M270.7,235.4l5.7,5.7M270.7,241.2l5.7,-5.7" stroke="#ff0000" stroke-width="1.1" fill="none"/>
<path d="M279.0,245.8h8.1M283.1,241.8v8.1M280.2,242.9l5.7,5.7M280.2,248.7l5.7,-5.7" stroke="#ff0000" stroke-width="1.1" fill="none"/>
<path d="M288.5,245.8h8.1M292.5,241.8v8.1M289.7,242.9l5.7,5.7M289.7,248.7l5.7,-5.7" stroke="#ff0000" stroke-width="1.1" fill="none"/>
<path d="M297.9,238.3h8.1M302.0,234.2v8.1M299.1,235.4l5.7,5.7M299.1,241.2l5.7,-5.7" stroke="#ff0000" stroke-width="1.1" fill="none"/>
<path d="M307.4,225.5h8.1M311.4,221.4v8.1M308.6,222.6l5.7,5.7M308.6,228.4l5.7,-5.7" stroke="#ff0000" stroke-width="1.1" fill="none"/>
<path d="M316.8,206.6h8.1M320.9,202.5v8.1M318.0,203.7l5.7,5.7M318.0,209.5l5.7,-5.7" stroke="#ff0000" stroke-width="1.1" fill="none"/>
<path d="M326.3,185.0h8.1M330.4,180.9v8.1M327.5,182.1l5.7,5.7M327.5,187.9l5.7,-5.7" stroke="#ff0000" stroke-width="1.1" fill="none"/>
<path d="M335.8,162.5h8.1M339.8,158.4v8.1M337.0,159.6l5.7,5.7M337.0,165.4l5.7,-5.7" stroke="#ff0000" stroke-width="1.1" fill="none"/>
<path d="M345.2,141.9h8.1M349.3,137.8v8.1M346.4,139.0l5.7,5.7M346.4,144.8l5.7,-5.7" stroke="#ff0000" stroke-width="1.1" fill="none"/>
<path d="M354.7,161.6h8.1M358.7,157.5v8.1M355.9,158.7l5.7,5.7M355.9,164.5l5.7,-5.7" stroke="#ff0000" stroke-width="1.1" fill="none"/>
<path d="M364.2,176.6h8.1M368.2,172.5v8.1M365.3,173.7l5.7,5.7M365.3,179.5l5.7,-5.7" stroke="#ff0000" stroke-width="1.1" fill="none"/>
<path d="M373.6,195.5h8.1M377.7,191.4v8.1M374.8,192.6l5.7,5.7M374.8,198.4l5.7,-5.7" stroke="#ff0000" stroke-width="1.1" fill="none"/>
<path d="M383.1,213.6h8.1M387.1,209.5v8.1M384.3,210.7l5.7,5.7M384.3,216.5l5.7,-5.7" stroke="#ff0000" stroke-width="1.1" fill="none"/>
<path d="M392.5,262.5h8.1M396.6,258.4v8.1M393.7,259.6l5.7,5.7M393.7,265.4l5.7,-5.7" stroke="#ff0000" stroke-width="1.1" fill="none"/>
<path d="M402.0,294.6h8.1M406.0,290.6v8.1M403.2,291.7l5.7,5.7M403.2,297.5l5.7,-5.7" stroke="#ff0000" stroke-width="1.1" fill="none"/>
<path d="M411.4,320.5h8.1M415.5,316.4v8.1M412.6,317.6l5.7,5.7M412.6,323.4l5.7,-5.7" stroke="#ff0000" stroke-width="1.1" fill="none"/>
<path d="M420.9,337.5h8.1M425.0,333.4v8.1M422.1,334.6l5.7,5.7M422.1,340.4l5.7,-5.7" stroke="#ff0000" stroke-width="1.1" fill="none"/>
<path d="M430.4,346.6h8.1M434.4,342.6v8.1M431.6,343.7l5.7,5.7M431.6,349.5l5.7,-5.7" stroke="#ff0000" stroke-width="1.1" fill="none"/>
<path d="M439.8,345.8h8.1M443.9,341.8v8.1M441.0,342.9l5.7,5.7M441.0,348.7l5.7,-5.7" stroke="#ff0000" stroke-width="1.1" fill="none"/>
<path d="M449.3,334.5h8.1M453.3,330.4v8.1M450.5,331.6l5.7,5.7M450.5,337.4l5.7,-5.7" stroke="#ff0000" stroke-width="1.1" fill="none"/>
<path d="M458.8,313.6h8.1M462.8,309.6v8.1M459.9,310.7l5.7,5.7M459.9,316.5l5.7,-5.7" stroke="#ff0000" stroke-width="1.1" fill="none"/>
<path d="M468.2,285.4h8.1M472.3,281.3v8.1M469.4,282.5l5.7,5.7M469.4,288.3l5.7,-5.7" stroke="#ff0000" stroke-width="1.1" fill="none"/>
<path d="M477.7,250.7h8.1M481.7,246.6v8.1M478.9,247.8l5.7,5.7M478.9,253.6l5.7,-5.7" stroke="#ff0000" stroke-width="1.1" fill="none"/>
<path d="M487.1,214.4h8.1M491.2,210.3v8.1M488.3,211.5l5.7,5.7M488.3,217.3l5.7,-5.7" stroke="#ff0000" stroke-width="1.1" fill="none"/>
<path d="M496.6,191.1h8.1M500.6,187.0v8.1M497.8,188.2l5.7,5.7M497.8,194.0l5.7,-5.7" stroke="#ff0000" stroke-width="1.1" fill="none"/>
<path d="M506.1,167.4h8.1M510.1,163.3v8.1M507.2,164.5l5.7,5.7M507.2,170.3l5.7,-5.7" stroke="#ff0000" stroke-width="1.1" fill="none"/>
<path d="M515.5,144.1h8.1M519.6,140.0v8.1M516.7,141.2l5.7,5.7M516.7,147.0l5.7,-5.7" stroke="#ff0000" stroke-width="1.1" fill="none"/>
<path d="M525.0,120.8h8.1M529.0,116.8v8.1M526.2,117.9l5.7,5.7M526.2,123.7l5.7,-5.7" stroke="#ff0000" stroke-width="1.1" fill="none"/>
<path d="M534.4,113.3h8.1M538.5,109.2v8.1M535.6,110.4l5.7,5.7M535.6,116.2l5.7,-5.7" stroke="#ff0000" stroke-width="1.1" fill="none"/>
<path d="M543.9,111.6h8.1M547.9,107.5v8.1M545.1,108.7l5.7,5.7M545.1,114.5l5.7,-5.7" stroke="#ff0000" stroke-width="1.1" fill="none"/>
<path d="M553.4,110.0h8.1M557.4,106.0v8.1M554.5,107.1l5.7,5.7M554.5,112.9l5.7,-5.7" stroke="#ff0000" stroke-width="1.1" fill="none"/>
<path d="M562.8,109.5h8.1M566.9,105.5v8.1M564.0,106.6l5.7,5.7M564.0,112.4l5.7,-5.7" stroke="#ff0000" stroke-width="1.1" fill="none"/>
<path d="M572.3,109.1h8.1M576.3,105.0v8.1M573.5,106.2l5.7,5.7M573.5,112.0l5.7,-5.7" stroke="#ff0000" stroke-width="1.1" fill="none"/>
<path d="M581.7,109.1h8.1M585.8,105.0v8.1M582.9,106.2l5.7,5.7M582.9,112.0l5.7,-5.7" stroke="#ff0000" stroke-width="1.1" fill="none"/>
<path d="M591.2,109.6h8.1M595.2,105.5v8.1M592.4,106.7l5.7,5.7M592.4,112.5l5.7,-5.7" stroke="#ff0000" stroke-width="1.1" fill="none"/>
<path d="M600.7,110.0h8.1M604.7,106.0v8.1M601.8,107.1l5.7,5.7M601.8,112.9l5.7,-5.7" stroke="#ff0000" stroke-width="1.1" fill="none"/>
<path d="M610.1,110.3h8.1M614.2,106.2v8.1M611.3,107.4l5.7,5.7M611.3,113.2l5.7,-5.7" stroke="#ff0000" stroke-width="1.1" fill="none"/>
<path d="M619.6,110.8h8.1M623.6,106.8v8.1M620.8,107.9l5.7,5.7M620.8,113.7l5.7,-5.7" stroke="#ff0000" stroke-width="1.1" fill="none"/>
<path d="M629.0,111.1h8.1M633.1,107.0v8.1M630.2,108.2l5.7,5.7M630.2,114.0l5.7,-5.7" stroke="#ff0000" stroke-width="1.1" fill="none"/>
<path d="M638.5,111.3h8.1M642.5,107.2v8.1M639.7,108.4l5.7,5.7M639.7,114.2l5.7,-5.7" stroke="#ff0000" stroke-width="1.1" fill="none"/>
<path d="M648.0,111.3h8.1M652.0,107.2v8.1M649.1,108.4l5.7,5.7M649.1,114.2l5.7,-5.7" stroke="#ff0000" stroke-width="1.1" fill="none"/>
<path d="M657.4,111.6h8.1M661.5,107.5v8.1M658.6,108.7l5.7,5.7M658.6,114.5l5.7,-5.7" stroke="#ff0000" stroke-width="1.1" fill="none"/>
<path d="M666.9,112.0h8.1M670.9,108.0v8.1M668.1,109.1l5.7,5.7M668.1,114.9l5.7,-5.7" stroke="#ff0000" stroke-width="1.1" fill="none"/>
<path d="M676.3,112.5h8.1M680.4,108.5v8.1M677.5,109.6l5.7,5.7M677.5,115.4l5.7,-5.7" stroke="#ff0000" stroke-width="1.1" fill="none"/>
</g>
<g>
<rect x="919.5" y="151.5" width="110" height="226" fill="#fff" stroke="none"/>
<path d="M919.5,151.5V377.5H1030" fill="none" stroke="#b4b4b4" stroke-width="1.4"/>
<path d="M919,151.5H1030" fill="none" stroke="#222" stroke-width="1.2"/>
<line x1="924" y1="172.5" x2="952" y2="172.5" stroke="#0000ff" stroke-width="2.2"/>
<path d="M934.1,209.8h8.1M938.1,205.8v8.1" stroke="#0000ff" stroke-width="1.1" fill="none"/>
<line x1="924" y1="246.1" x2="952" y2="246.1" stroke="#248a46" stroke-width="1.6"/>
<circle cx="938.1" cy="282.4" r="3.9" stroke="#248a46" stroke-width="1.2" fill="none"/>
<line x1="924" y1="318.3" x2="952" y2="318.3" stroke="#ff0000" stroke-width="1.1"/>
<path d="M934.1,354.9h8.1M938.1,350.8v8.1M935.2,352.0l5.7,5.7M935.2,357.8l5.7,-5.7" stroke="#ff0000" stroke-width="1.1" fill="none"/>
<g font-family="'Liberation Sans', Arial, sans-serif" font-size="10.95" fill="#000" stroke="#000" stroke-width="0.2">
<text x="955.2" y="176.7">TW-10-File_2</text>
<text x="955.2" y="214.0">TW-10-Event</text>
<text x="955.2" y="250.3">TW-10-File_1</text>
<text x="955.2" y="286.6">TW-10-Event</text>
<text x="955.2" y="322.5">TW-10-File_3</text>
<text x="955.2" y="359.1">TW-10-Event</text>
</g></g>
</svg>
</body></html>
